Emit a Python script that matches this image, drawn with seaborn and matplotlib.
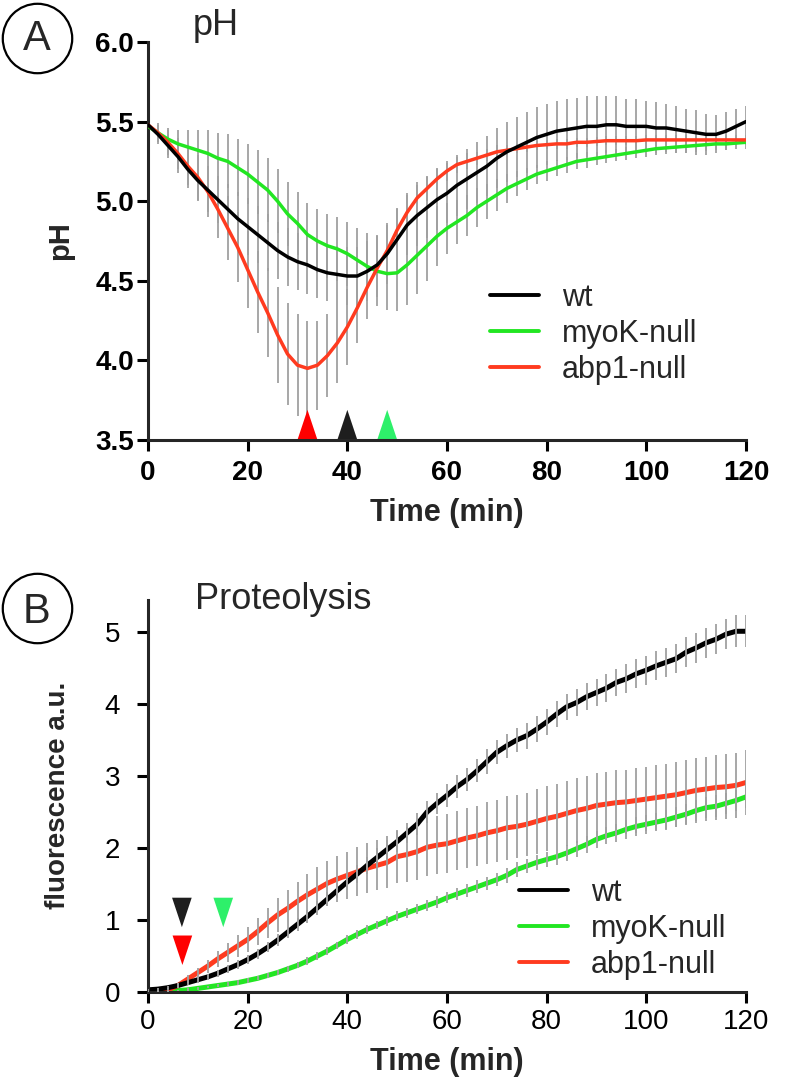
import numpy as np
import pandas as pd
import matplotlib.pyplot as plt
from matplotlib.lines import Line2D
import seaborn as sns

sns.set_style("ticks")
plt.rcParams['font.family'] = ['Liberation Sans', 'DejaVu Sans']

# ---- data ----
time_min = list(range(0, 121, 2))

# panel A: lysosomal pH
wt_ph = [5.48, 5.42, 5.35, 5.28, 5.20, 5.13, 5.07, 5.01, 4.95, 4.89,
         4.84, 4.79, 4.74, 4.69, 4.65, 4.62, 4.60, 4.57, 4.55, 4.54,
         4.53, 4.53, 4.56, 4.60, 4.67, 4.76, 4.85, 4.91, 4.96, 5.01,
         5.05, 5.10, 5.14, 5.18, 5.22, 5.27, 5.31, 5.34, 5.37, 5.40,
         5.42, 5.44, 5.45, 5.46, 5.47, 5.47, 5.48, 5.48, 5.47, 5.47,
         5.47, 5.46, 5.46, 5.45, 5.44, 5.43, 5.42, 5.42, 5.44, 5.47,
         5.50]
myok_ph = [5.47, 5.43, 5.39, 5.36, 5.34, 5.32, 5.30, 5.27, 5.25, 5.21,
           5.17, 5.12, 5.07, 5.00, 4.92, 4.86, 4.79, 4.75, 4.72, 4.70,
           4.67, 4.63, 4.59, 4.56, 4.545, 4.55, 4.60, 4.66, 4.72, 4.78,
           4.83, 4.87, 4.91, 4.96, 5.00, 5.04, 5.08, 5.11, 5.14, 5.17,
           5.19, 5.21, 5.23, 5.25, 5.26, 5.27, 5.28, 5.29, 5.30, 5.31,
           5.32, 5.33, 5.335, 5.34, 5.345, 5.35, 5.355, 5.36, 5.36, 5.365,
           5.37]
abp1_ph = [5.48, 5.43, 5.37, 5.30, 5.22, 5.15, 5.06, 4.95, 4.83, 4.71,
           4.57, 4.43, 4.30, 4.16, 4.04, 3.97, 3.95, 3.97, 4.03, 4.11,
           4.21, 4.33, 4.46, 4.58, 4.69, 4.82, 4.93, 5.02, 5.08, 5.14,
           5.19, 5.23, 5.25, 5.27, 5.29, 5.31, 5.32, 5.33, 5.34, 5.35,
           5.355, 5.36, 5.36, 5.37, 5.37, 5.375, 5.38, 5.38, 5.38, 5.38,
           5.385, 5.385, 5.385, 5.385, 5.385, 5.385, 5.385, 5.385, 5.385, 5.385,
           5.385]
wt_ph_sd = [0.04, 0.06, 0.08, 0.10, 0.12, 0.13, 0.14, 0.15, 0.16, 0.17,
            0.18, 0.18, 0.18, 0.18, 0.18, 0.18, 0.18, 0.18, 0.18, 0.18,
            0.18, 0.18, 0.19, 0.19, 0.19, 0.19, 0.19, 0.19, 0.19, 0.19,
            0.19, 0.19, 0.19, 0.19, 0.19, 0.19, 0.19, 0.19, 0.19, 0.19,
            0.19, 0.19, 0.19, 0.19, 0.19, 0.19, 0.18, 0.18, 0.17, 0.17,
            0.16, 0.16, 0.15, 0.15, 0.14, 0.14, 0.13, 0.12, 0.12, 0.11,
            0.10]
myok_ph_sd = [0.03, 0.05, 0.07, 0.09, 0.11, 0.13, 0.15, 0.16, 0.17, 0.18,
              0.19, 0.20, 0.20, 0.20, 0.20, 0.20, 0.20, 0.20, 0.20, 0.20,
              0.20, 0.20, 0.21, 0.22, 0.23, 0.24, 0.25, 0.24, 0.22, 0.19,
              0.16, 0.14, 0.13, 0.12, 0.11, 0.10, 0.09, 0.08, 0.07, 0.06,
              0.06, 0.05, 0.05, 0.05, 0.05, 0.04, 0.04, 0.04, 0.04, 0.04,
              0.04, 0.04, 0.04, 0.04, 0.04, 0.04, 0.04, 0.04, 0.04, 0.04,
              0.04]
abp1_ph_sd = [0.04, 0.06, 0.08, 0.10, 0.12, 0.14, 0.16, 0.18, 0.20, 0.22,
              0.24, 0.26, 0.28, 0.30, 0.32, 0.32, 0.30, 0.28, 0.26, 0.25,
              0.24, 0.22, 0.20, 0.18, 0.16, 0.14, 0.12, 0.10, 0.08, 0.07,
              0.06, 0.05, 0.05, 0.04, 0.04, 0.04, 0.03, 0.03, 0.03, 0.03,
              0.03, 0.03, 0.03, 0.03, 0.03, 0.03, 0.03, 0.03, 0.03, 0.03,
              0.03, 0.03, 0.03, 0.03, 0.03, 0.03, 0.03, 0.03, 0.03, 0.03,
              0.03]

# panel B: proteolysis
wt_fl = [0.03, 0.04, 0.06, 0.09, 0.13, 0.17, 0.21, 0.26, 0.32, 0.38,
         0.45, 0.53, 0.62, 0.72, 0.83, 0.94, 1.05, 1.17, 1.29, 1.41,
         1.53, 1.64, 1.76, 1.87, 1.98, 2.09, 2.21, 2.33, 2.50, 2.62,
         2.73, 2.85, 2.95, 3.07, 3.20, 3.33, 3.42, 3.50, 3.56, 3.65,
         3.75, 3.86, 3.96, 4.02, 4.10, 4.16, 4.22, 4.30, 4.35, 4.42,
         4.47, 4.53, 4.58, 4.63, 4.72, 4.78, 4.85, 4.90, 4.97, 5.01,
         5.01]
myok_fl = [0.00, 0.00, 0.01, 0.02, 0.03, 0.05, 0.07, 0.09, 0.11, 0.13,
           0.16, 0.19, 0.23, 0.27, 0.32, 0.37, 0.43, 0.50, 0.57, 0.65,
           0.73, 0.80, 0.87, 0.93, 0.99, 1.05, 1.10, 1.15, 1.20, 1.25,
           1.31, 1.36, 1.41, 1.46, 1.51, 1.56, 1.62, 1.70, 1.75, 1.80,
           1.84, 1.88, 1.93, 1.99, 2.05, 2.12, 2.17, 2.21, 2.26, 2.30,
           2.33, 2.36, 2.39, 2.43, 2.47, 2.52, 2.56, 2.58, 2.62, 2.66,
           2.71]
abp1_fl = [0.00, 0.01, 0.03, 0.09, 0.18, 0.27, 0.36, 0.46, 0.55, 0.64,
           0.73, 0.84, 0.96, 1.07, 1.16, 1.26, 1.35, 1.43, 1.51, 1.57,
           1.62, 1.67, 1.72, 1.76, 1.80, 1.88, 1.91, 1.95, 2.01, 2.04,
           2.06, 2.10, 2.14, 2.17, 2.21, 2.24, 2.28, 2.30, 2.33, 2.37,
           2.41, 2.44, 2.48, 2.52, 2.55, 2.59, 2.61, 2.63, 2.64, 2.66,
           2.68, 2.70, 2.72, 2.74, 2.77, 2.80, 2.82, 2.84, 2.85, 2.87,
           2.91]
wt_fl_sd = [0.01, 0.02, 0.02, 0.03, 0.03, 0.04, 0.04, 0.05, 0.05, 0.06,
            0.06, 0.07, 0.07, 0.08, 0.08, 0.09, 0.09, 0.10, 0.10, 0.11,
            0.11, 0.12, 0.12, 0.13, 0.13, 0.14, 0.14, 0.15, 0.15, 0.15,
            0.16, 0.16, 0.16, 0.16, 0.17, 0.17, 0.17, 0.17, 0.18, 0.18,
            0.18, 0.18, 0.18, 0.19, 0.19, 0.19, 0.19, 0.19, 0.20, 0.20,
            0.20, 0.20, 0.20, 0.20, 0.21, 0.21, 0.21, 0.21, 0.21, 0.22,
            0.22]
myok_fl_sd = [0.01, 0.01, 0.01, 0.01, 0.02, 0.02, 0.02, 0.02, 0.03, 0.03,
              0.03, 0.03, 0.04, 0.04, 0.04, 0.04, 0.05, 0.05, 0.05, 0.05,
              0.06, 0.06, 0.06, 0.06, 0.07, 0.07, 0.07, 0.07, 0.08, 0.08,
              0.08, 0.08, 0.09, 0.09, 0.09, 0.09, 0.10, 0.10, 0.10, 0.10,
              0.11, 0.11, 0.11, 0.11, 0.12, 0.12, 0.12, 0.12, 0.13, 0.13,
              0.13, 0.13, 0.14, 0.14, 0.14, 0.14, 0.15, 0.15, 0.15, 0.15,
              0.15]
abp1_fl_sd = [0.01, 0.02, 0.03, 0.04, 0.05, 0.07, 0.09, 0.11, 0.13, 0.15,
              0.17, 0.19, 0.21, 0.23, 0.25, 0.27, 0.29, 0.30, 0.31, 0.32,
              0.33, 0.34, 0.35, 0.35, 0.36, 0.37, 0.38, 0.39, 0.40, 0.40,
              0.41, 0.41, 0.42, 0.42, 0.43, 0.43, 0.44, 0.44, 0.44, 0.45,
              0.45, 0.45, 0.45, 0.45, 0.45, 0.45, 0.45, 0.45, 0.45, 0.45,
              0.45, 0.45, 0.45, 0.45, 0.45, 0.45, 0.45, 0.45, 0.45, 0.45,
              0.45]

# arrowheads (time of minimum pH / onset of proteolysis)
arrow_a_times = [32, 40, 48]
arrow_a_colors = ['#ff0000', '#1e1e1e', '#2ef06a']
arrow_b_times = [6.8, 15.1, 6.9]
arrow_b_levels = [1.105, 1.105, 0.58]
arrow_b_colors = ['#1e1e1e', '#2ef06a', '#ff0000']

x_ticks = [0, 20, 40, 60, 80, 100, 120]
x_tick_labels = ['0', '20', '40', '60', '80', '100', '120']
ph_ticks = [3.5, 4.0, 4.5, 5.0, 5.5, 6.0]
ph_tick_labels = ['3.5', '4.0', '4.5', '5.0', '5.5', '6.0']
fl_ticks = [0, 1, 2, 3, 4, 5]
fl_tick_labels = ['0', '1', '2', '3', '4', '5']

legend_order = ['wt', 'myoK-null', 'abp1-null']
colors = {'wt': '#000000', 'myoK-null': '#22e622', 'abp1-null': '#ff3b1f'}
bar_grey = '#a0a0a0'

# ---- figure ----
W, H = 798, 1083
fig = plt.figure(figsize=(W / 100, H / 100), dpi=100)
axA = fig.add_axes([148 / W, 1 - 440 / H, 598 / W, 398 / H])
axB = fig.add_axes([148 / W, 1 - 992 / H, 598 / W, 392.4 / H])

tall_up = [(-1, -1.5), (1, -1.5), (0, 1.5)]
tall_down = [(-1, 1.5), (1, 1.5), (0, -1.5)]

# Panel A
series_a = [('myoK-null', myok_ph, myok_ph_sd), ('abp1-null', abp1_ph, abp1_ph_sd), ('wt', wt_ph, wt_ph_sd)]
for name, m, sd in series_a:
    axA.errorbar(time_min, m, yerr=sd, fmt='none', ecolor=bar_grey, elinewidth=1.3, capsize=0, zorder=1)
for name, m, sd in series_a:
    sns.lineplot(x=time_min, y=m, color=colors[name], lw=2.5, ax=axA, label=name, zorder=3)
axA.scatter(arrow_a_times, [3.595] * 3, marker=tall_up, s=467, c=arrow_a_colors, linewidths=0, zorder=2.2)

# Panel B
series_b = [('myoK-null', myok_fl, myok_fl_sd), ('abp1-null', abp1_fl, abp1_fl_sd), ('wt', wt_fl, wt_fl_sd)]
for name, m, sd in series_b:
    sns.lineplot(x=time_min, y=m, color=colors[name], lw=3.6, ax=axB, label=name, zorder=2)
for name, m, sd in series_b:
    axB.errorbar(time_min, m, yerr=sd, fmt='none', ecolor=bar_grey, elinewidth=1.3, capsize=0, zorder=3)
axB.scatter(arrow_b_times, arrow_b_levels, marker=tall_down, s=450, c=arrow_b_colors, linewidths=0, zorder=4)

for ax in (axA, axB):
    sns.despine(ax=ax)
    for s in ['left', 'bottom']:
        ax.spines[s].set_linewidth(2.2)
    ax.set_xlim(0, 120)
    ax.tick_params(length=8, width=2.2, labelsize=20, direction='out', colors='black')
    h, l = ax.get_legend_handles_labels()
    hd = dict(zip(l, h))
    leg = ax.legend([hd[k] for k in legend_order], legend_order, loc='center left',
                    frameon=False, fontsize=22, handlelength=1.6, handletextpad=0.75,
                    labelspacing=0.2, borderpad=0, borderaxespad=0,
                    bbox_transform=fig.transFigure,
                    bbox_to_anchor=(490 / W, 1 - 334 / H) if ax is axA else (519 / W, 1 - 929 / H))
    for ln in leg.get_lines():
        ln.set_linewidth(2.8)

axA.set_ylim(3.5, 6.0)
axA.set_xticks(x_ticks)
axA.set_xticklabels(x_tick_labels, fontweight='bold')
axA.set_yticks(ph_ticks)
axA.set_yticklabels(ph_tick_labels, fontweight='bold')
axA.tick_params(axis='x', pad=6.5)
axA.tick_params(axis='y', pad=2)
axA.set_xlabel('Time (min)', fontsize=22, fontweight='bold')
axA.xaxis.set_label_coords(0.5, -0.146)
axA.set_ylabel('pH', fontsize=21, fontweight='bold')
axA.yaxis.set_label_coords(-0.124, 0.5)

axB.set_ylim(0, 5.45)
axB.set_xticks(x_ticks)
axB.set_xticklabels(x_tick_labels)
axB.set_yticks(fl_ticks)
axB.set_yticklabels(fl_tick_labels)
axB.tick_params(axis='x', pad=4.5)
axB.tick_params(axis='y', pad=12)
axB.set_xlabel('Time (min)', fontsize=22, fontweight='bold')
axB.xaxis.set_label_coords(0.5, -0.140)
axB.set_ylabel('fluorescence a.u.', fontsize=20, fontweight='bold')
axB.yaxis.set_label_coords(-0.129, 0.5)

# panel titles and circled letters
fig.text(193 / W, 1 - 35 / H, 'pH', fontsize=26, ha='left', va='baseline')
fig.text(195 / W, 1 - 609 / H, 'Proteolysis', fontsize=26, ha='left', va='baseline')
for letter, cy, base in [('A', 38, 50), ('B', 608, 623)]:
    fig.add_artist(Line2D([37 / W], [1 - cy / H], transform=fig.transFigure, marker='o', ms=50,
                          mfc='none', mec='black', mew=1.6, ls='none'))
    fig.text(37 / W, 1 - base / H, letter, fontsize=30, ha='center', va='baseline')

fig.savefig('out.png', dpi=100)
